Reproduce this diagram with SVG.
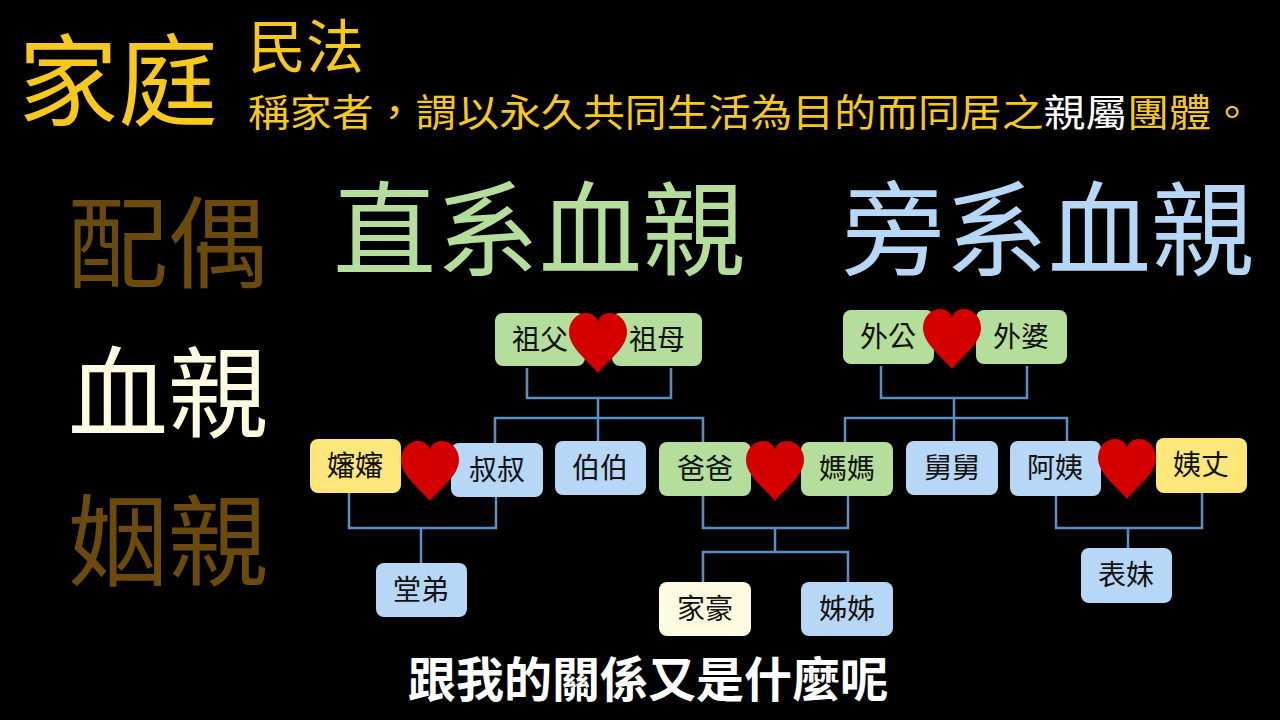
<svg xmlns="http://www.w3.org/2000/svg" width="1280" height="720" viewBox="0 0 1280 720">
<style>
text{font-family:"Noto Sans CJK TC","Noto Sans CJK SC",sans-serif}
.n text{font-size:28px;fill:#111;text-anchor:middle}
.g{fill:#b5dd9c}.b{fill:#b6d7f5}.y{fill:#fde67a}.c{fill:#fefbe0}
.ln{fill:none;stroke:#5b8fc4;stroke-width:2.5}
</style>
<defs>
<path id="h" d="M0,30 C-11,17 -29,4 -29,-11 C-29,-23 -20,-30 -12,-30 C-5,-30 -1,-26 0,-21 C1,-26 5,-30 12,-30 C20,-30 29,-23 29,-11 C29,4 11,17 0,30 Z" fill="#d40000"/>
</defs>
<rect width="1280" height="720" fill="#000"/>
<text x="18" y="118" font-size="100" fill="#f7c81e">家庭</text>
<text x="248" y="68" font-size="58" fill="#f7c81e">民法</text>
<text x="248" y="126" font-size="38" fill="#f7c81e" textLength="1005" lengthAdjust="spacingAndGlyphs">稱家者，謂以永久共同生活為目的而同居之<tspan fill="#fff">親屬</tspan>團體。</text>
<text x="68" y="280" font-size="100" fill="#6b4a0e">配偶</text>
<text x="68" y="430" font-size="100" fill="#fffbe0">血親</text>
<text x="68" y="578" font-size="100" fill="#6b4a0e">姻親</text>
<text x="333" y="268" font-size="103" fill="#b5dd9c">直系血親</text>
<text x="842" y="268" font-size="103" fill="#b6d7f5">旁系血親</text>
<text x="648" y="697" font-size="48" font-weight="bold" fill="#fff" text-anchor="middle">跟我的關係又是什麼呢</text>
<g id="connectors" class="ln">
<path d="M527,368V398H671V368M598,398V418M495,443V418H703V442M598,418V441"/>
<path d="M349,493V528H496V497M421,528V563"/>
<path d="M703,496V528H848V496M775,528V552M703,582V552H848V582"/>
<path d="M881,366V398H1027V366M954,398V418M845,442V418H1067V441M954,418V441"/>
<path d="M1056,496V528H1202V493M1128,528V548"/>
</g>
<g id="n1" class="n"><rect class="g" x="495" y="313" width="90" height="53" rx="8"/><text x="540" y="350">祖父</text></g>
<g id="n2" class="n"><rect class="g" x="612" y="313" width="90" height="53" rx="8"/><text x="657" y="350">祖母</text></g>
<g id="n3" class="n"><rect class="g" x="843" y="310" width="91" height="54" rx="8"/><text x="888" y="347">外公</text></g>
<g id="n4" class="n"><rect class="g" x="976" y="310" width="91" height="54" rx="8"/><text x="1021" y="347">外婆</text></g>
<g id="n5" class="n"><rect class="y" x="310" y="439" width="91" height="54" rx="8"/><text x="355" y="476">嬸嬸</text></g>
<g id="n6" class="n"><rect class="b" x="451" y="443" width="92" height="54" rx="8"/><text x="497" y="480">叔叔</text></g>
<g id="n7" class="n"><rect class="b" x="555" y="441" width="91" height="54" rx="8"/><text x="600" y="478">伯伯</text></g>
<g id="n8" class="n"><rect class="g" x="659" y="442" width="92" height="54" rx="8"/><text x="705" y="479">爸爸</text></g>
<g id="n9" class="n"><rect class="g" x="801" y="442" width="92" height="54" rx="8"/><text x="847" y="479">媽媽</text></g>
<g id="n10" class="n"><rect class="b" x="906" y="441" width="92" height="54" rx="8"/><text x="952" y="478">舅舅</text></g>
<g id="n11" class="n"><rect class="b" x="1010" y="441" width="91" height="55" rx="8"/><text x="1055" y="478">阿姨</text></g>
<g id="n12" class="n"><rect class="y" x="1156" y="438" width="91" height="55" rx="8"/><text x="1201" y="475">姨丈</text></g>
<g id="n13" class="n"><rect class="b" x="376" y="563" width="91" height="54" rx="8"/><text x="421" y="600">堂弟</text></g>
<g id="n14" class="n"><rect class="c" x="659" y="582" width="92" height="54" rx="8"/><text x="705" y="619">家豪</text></g>
<g id="n15" class="n"><rect class="b" x="801" y="582" width="92" height="54" rx="8"/><text x="847" y="619">姊姊</text></g>
<g id="n16" class="n"><rect class="b" x="1081" y="548" width="91" height="55" rx="8"/><text x="1126" y="585">表妹</text></g>
<g id="hearts">
<use href="#h" x="598" y="343"/>
<use href="#h" x="952" y="339"/>
<use href="#h" x="430" y="471"/>
<use href="#h" x="775" y="471"/>
<use href="#h" x="1127" y="469"/>
</g>
</svg>
